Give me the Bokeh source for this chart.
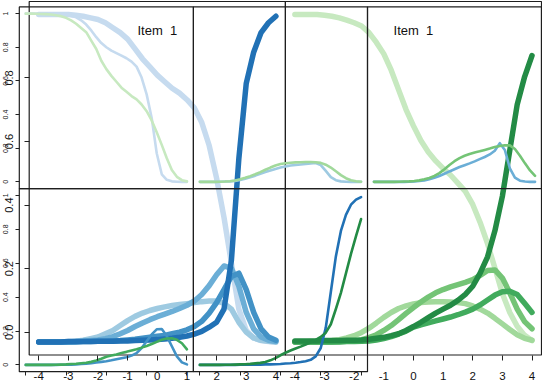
from bokeh.plotting import figure
from bokeh.models import Range1d, LinearAxis, FixedTicker
from bokeh.core.properties import value
from bokeh.embed import file_html
from bokeh.resources import INLINE

# ---------------- data ----------------
theta = [-4.0, -3.75, -3.5, -3.25, -3.0, -2.75, -2.5, -2.25, -2.0, -1.75, -1.5,
         -1.25, -1.0, -0.75, -0.5, -0.25, 0.0, 0.25, 0.5, 0.75, 1.0, 1.25, 1.5,
         1.75, 2.0, 2.25, 2.5, 2.75, 3.0, 3.25, 3.5, 3.75, 4.0]

# large panels: category curves of the blue item
blue_c1 = [1.0, 1.0, 1.0, 1.0, 1.0, 0.998, 0.995, 0.99, 0.985, 0.975, 0.96, 0.945, 0.925, 0.895, 0.865, 0.84, 0.815,
           0.795, 0.775, 0.76, 0.74, 0.715, 0.67, 0.6, 0.5, 0.38, 0.24, 0.1, 0.035, 0.012, 0.004, 0.001, 0.0]
blue_c2 = [0, 0, 0, 0, 0.001, 0.002, 0.005, 0.01, 0.015, 0.025, 0.035, 0.05, 0.065, 0.078, 0.088, 0.096, 0.102,
           0.107, 0.111, 0.114, 0.117, 0.12, 0.123, 0.125, 0.125, 0.118, 0.1, 0.06, 0.03, 0.012, 0.005, 0.002, 0.0]
blue_c3 = [0, 0, 0, 0, 0, 0.001, 0.002, 0.004, 0.006, 0.01, 0.016, 0.025, 0.035, 0.047, 0.058, 0.068, 0.077,
           0.085, 0.093, 0.102, 0.112, 0.125, 0.145, 0.172, 0.205, 0.232, 0.225, 0.17, 0.09, 0.04, 0.015, 0.005, 0.001]
blue_c4 = [0, 0, 0, 0, 0, 0, 0.001, 0.001, 0.002, 0.002, 0.003, 0.004, 0.006, 0.008, 0.011, 0.014, 0.017,
           0.02, 0.025, 0.03, 0.037, 0.047, 0.063, 0.088, 0.12, 0.16, 0.2, 0.21, 0.16, 0.09, 0.04, 0.015, 0.005]
blue_c5 = [0, 0, 0, 0, 0.001, 0.001, 0.001, 0.001, 0.002, 0.002, 0.002, 0.003, 0.003, 0.004, 0.005, 0.006, 0.007,
           0.009, 0.011, 0.014, 0.018, 0.024, 0.032, 0.045, 0.06, 0.1, 0.25, 0.56, 0.79, 0.885, 0.945, 0.975, 0.995]

# large panels: category curves of the green item
green_c1 = [1.0, 1.0, 1.0, 1.0, 0.998, 0.995, 0.99, 0.983, 0.975, 0.965, 0.945, 0.915, 0.88, 0.83, 0.77, 0.71, 0.66,
            0.615, 0.58, 0.553, 0.53, 0.51, 0.485, 0.46, 0.42, 0.365, 0.3, 0.225, 0.148, 0.09, 0.048, 0.02, 0.004]
green_c2 = [0, 0, 0.001, 0.001, 0.002, 0.004, 0.007, 0.012, 0.019, 0.029, 0.042, 0.058, 0.075, 0.09, 0.102, 0.11, 0.116,
            0.12, 0.122, 0.123, 0.123, 0.122, 0.12, 0.117, 0.11, 0.1, 0.088, 0.072, 0.055, 0.038, 0.022, 0.011, 0.005]
green_c3 = [0, 0, 0, 0, 0, 0, 0.001, 0.002, 0.003, 0.007, 0.013, 0.022, 0.035, 0.05, 0.068, 0.087, 0.105,
            0.122, 0.137, 0.15, 0.16, 0.168, 0.175, 0.182, 0.19, 0.203, 0.218, 0.22, 0.195, 0.15, 0.1, 0.062, 0.04]
green_c4 = [0, 0, 0, 0, 0, 0, 0, 0.001, 0.001, 0.002, 0.003, 0.006, 0.01, 0.016, 0.024, 0.033, 0.045,
            0.052, 0.058, 0.064, 0.07, 0.076, 0.083, 0.091, 0.1, 0.113, 0.128, 0.143, 0.153, 0.155, 0.145, 0.118, 0.09]
green_c5 = [0.003, 0.003, 0.003, 0.003, 0.004, 0.004, 0.004, 0.005, 0.005, 0.006, 0.008, 0.011, 0.014, 0.019, 0.025,
            0.035, 0.047, 0.06, 0.074, 0.088, 0.1, 0.112, 0.127, 0.145, 0.17, 0.21, 0.26, 0.34, 0.445, 0.585, 0.725,
            0.81, 0.875]

# small panels (one category per panel, blue item and green item)
cat1_blue = [1.0, 1.0, 1.0, 1.0, 1.0, 0.999, 0.998, 0.996, 0.993, 0.988, 0.978, 0.96, 0.935, 0.9, 0.86, 0.825, 0.8,
             0.78, 0.765, 0.75, 0.735, 0.715, 0.685, 0.62, 0.52, 0.38, 0.17, 0.045, 0.012, 0.003, 0.001, 0.0, 0.0]
cat1_green = [1.0, 1.0, 0.999, 0.998, 0.997, 0.995, 0.99, 0.985, 0.975, 0.96, 0.94, 0.915, 0.89, 0.84, 0.79, 0.72, 0.67,
              0.63, 0.595, 0.56, 0.535, 0.51, 0.49, 0.46, 0.42, 0.365, 0.295, 0.22, 0.14, 0.07, 0.03, 0.01, 0.003]
cat2_blue = [0, 0, 0, 0, 0.001, 0.002, 0.003, 0.006, 0.011, 0.018, 0.027, 0.037, 0.048, 0.059, 0.068, 0.077, 0.085,
             0.092, 0.097, 0.1, 0.103, 0.106, 0.11, 0.112, 0.1, 0.065, 0.028, 0.01, 0.003, 0.001, 0, 0, 0]
cat2_green = [0, 0, 0, 0, 0.001, 0.002, 0.004, 0.008, 0.015, 0.024, 0.034, 0.045, 0.058, 0.072, 0.085, 0.097, 0.106,
              0.111, 0.114, 0.116, 0.117, 0.118, 0.118, 0.117, 0.113, 0.102, 0.085, 0.063, 0.04, 0.022, 0.01, 0.004, 0.001]
cat3_blue = [0, 0, 0, 0, 0, 0, 0, 0.001, 0.002, 0.005, 0.009, 0.015, 0.024, 0.035, 0.048, 0.062, 0.075,
             0.088, 0.099, 0.11, 0.122, 0.135, 0.148, 0.163, 0.185, 0.23, 0.19, 0.08, 0.025, 0.007, 0.002, 0, 0]
cat3_green = [0, 0, 0, 0, 0, 0.001, 0.002, 0.003, 0.005, 0.009, 0.015, 0.023, 0.035, 0.052, 0.075, 0.1, 0.123,
              0.141, 0.155, 0.166, 0.175, 0.182, 0.19, 0.198, 0.207, 0.213, 0.218, 0.217, 0.195, 0.155, 0.11, 0.068, 0.036]
cat4_blue = [0, 0, 0, 0, 0, 0, 0, 0.001, 0.001, 0.002, 0.003, 0.005, 0.007, 0.01, 0.014, 0.018, 0.022,
             0.027, 0.033, 0.039, 0.045, 0.055, 0.07, 0.1, 0.14, 0.18, 0.21, 0.212, 0.17, 0.11, 0.05, 0.015, 0.003]
cat4_green = [0, 0, 0, 0, 0, 0, 0.001, 0.002, 0.003, 0.005, 0.007, 0.01, 0.013, 0.018, 0.026, 0.036, 0.048,
              0.055, 0.062, 0.07, 0.077, 0.085, 0.093, 0.102, 0.112, 0.123, 0.136, 0.148, 0.156, 0.157, 0.148, 0.128, 0.092]
cat5_blue = [0, 0, 0, 0, 0, 0, 0, 0, 0.001, 0.001, 0.001, 0.002, 0.002, 0.003, 0.003, 0.004, 0.005,
             0.008, 0.01, 0.013, 0.017, 0.022, 0.03, 0.05, 0.1, 0.22, 0.43, 0.64, 0.79, 0.885, 0.945, 0.975, 0.99]
cat5_green = [0, 0, 0, 0, 0, 0.001, 0.001, 0.002, 0.003, 0.004, 0.006, 0.009, 0.012, 0.017, 0.027, 0.04, 0.057,
              0.072, 0.085, 0.097, 0.108, 0.12, 0.133, 0.148, 0.165, 0.19, 0.24, 0.33, 0.425, 0.54, 0.655, 0.76, 0.86]

panel_titles = ["Item\u00a0 1", "Item\u00a0 1"]
theta_ticks = [-4, -3, -2, -1, 0, 1, 2, 3, 4]
theta_labels = ["-4", "-3", "-2", "-1", "0", "1", "2", "3", "4"]
big_prob_ticks = [0.0, 0.2, 0.4, 0.6, 0.8]
big_prob_labels = ["0.0", "0.2", "0.4", "0.6", "0.8"]
small_prob_ticks = [0.0, 0.2, 0.4, 0.6, 0.8, 1.0]
small_prob_labels = ["0", "0.2", "0.4", "0.6", "0.8", "1"]
small_theta_ticks = [-4, -2, 0, 2, 4]

# ---------------- styling / layout ----------------
BLUES = ["#c6dbef", "#9ecae1", "#6baed6", "#4292c6", "#2171b5"]
GREENS = ["#c7e9c0", "#a1d99b", "#74c476", "#41ab5d", "#238b45"]
FONT = "Liberation Sans"
FRAME = "#1e1e1e"
W, H = 542, 384

# panel boxes in canvas pixels (left, right) / (top, bottom)
P_X = [(28.7, 284.9), (284.9, 541.0)]
P_Y = (1.0, 354.5)
P_AXIS_Y = (13.8, 331.8)
Q_X = [(18.8, 192.9), (192.9, 367.0), (367.0, 541.0)]
Q_Y = [(6.4, 188.1), (188.1, 371.2)]
XLO, XHI = -4.32, 4.32
YLO, YHI = -0.04, 1.04


def x_range_for(left, right, lo=XLO, hi=XHI):
    k = (hi - lo) / (right - left)
    return Range1d(start=lo - left * k, end=hi + (W - right) * k)


def y_range_for(top, bottom, lo=YLO, hi=YHI):
    k = (hi - lo) / (bottom - top)
    return Range1d(start=lo - (H - bottom) * k, end=hi + top * k)


p = figure(width=W, height=H, output_backend="svg", toolbar_location=None,
           x_axis_type=None, y_axis_type=None,
           x_range=Range1d(0, W), y_range=Range1d(0, H), min_border=0)
p.outline_line_color = None
p.background_fill_color = "white"
p.border_fill_color = "white"

p.extra_x_ranges = {
    "px0": x_range_for(*P_X[0]), "px1": x_range_for(*P_X[1]),
    "qx0": x_range_for(*Q_X[0]), "qx1": x_range_for(*Q_X[1]), "qx2": x_range_for(*Q_X[2]),
}
p.extra_y_ranges = {
    "py": y_range_for(*P_Y),
    "pyax": y_range_for(P_AXIS_Y[0], P_AXIS_Y[1], 0.0, 1.0),
    "qy0": y_range_for(*Q_Y[0]), "qy1": y_range_for(*Q_Y[1]),
}


def frame(xn, yn):
    p.quad(left=[XLO], right=[XHI], bottom=[YLO], top=[YHI], fill_color=None,
           line_color=FRAME, line_width=1.2, x_range_name=xn, y_range_name=yn)


def curve(vals, col, xn, yn, lw):
    p.line(theta, vals, line_color=col, line_width=lw, line_cap="round", line_join="round",
           x_range_name=xn, y_range_name=yn)


# ---- large two-panel layer ----
frame("px0", "py")
frame("px1", "py")
for vals, col in zip([blue_c1, blue_c2, blue_c3, blue_c4, blue_c5], BLUES):
    curve(vals, col, "px0", "py", 5.5)
for vals, col in zip([green_c1, green_c2, green_c3, green_c4, green_c5], GREENS):
    curve(vals, col, "px1", "py", 5.5)
for i, xn in enumerate(["px0", "px1"]):
    p.text(x=[0], y=[0.95], text=[panel_titles[i]], x_range_name=xn, y_range_name="py",
           text_font=value(FONT), text_font_size="13px", text_color="#111",
           text_align="center", text_baseline="middle")

# ---- small five-panel layer ----
small = [
    ("qx0", "qy0", cat1_blue, cat1_green, 0),
    ("qx1", "qy0", cat2_blue, cat2_green, 1),
    ("qx2", "qy0", cat3_blue, cat3_green, 2),
    ("qx0", "qy1", cat4_blue, cat4_green, 3),
    ("qx1", "qy1", cat5_blue, cat5_green, 4),
]
for xn, yn, bv, gv, k in small:
    frame(xn, yn)
    curve(bv, BLUES[k], xn, yn, 2.6)
    curve(gv, GREENS[k], xn, yn, 2.6)


# ---- axes ----
def add_axis(side, xn, yn, loc, ticks, labels, size, standoff, tick_len, orient="horizontal"):
    ax = LinearAxis(x_range_name=xn, y_range_name=yn, fixed_location=loc,
                    ticker=FixedTicker(ticks=ticks),
                    major_label_overrides=dict(zip(ticks, labels)),
                    major_label_orientation=orient,
                    major_label_text_font=FONT, major_label_text_font_size=size,
                    major_label_text_color="#111", major_label_standoff=standoff,
                    axis_line_color=None, major_tick_in=0, major_tick_out=tick_len,
                    major_tick_line_color="#222", minor_tick_line_color=None)
    p.add_layout(ax, side)


add_axis("left", "px0", "pyax", XLO, big_prob_ticks, big_prob_labels, "11px", 11, 5, "vertical")
add_axis("left", "qx0", "qy0", XLO, small_prob_ticks, small_prob_labels, "7px", 7, 4, "vertical")
add_axis("left", "qx0", "qy1", XLO, small_prob_ticks, small_prob_labels, "7px", 7, 4, "vertical")
add_axis("below", "px0", "py", YLO, theta_ticks, theta_labels, "11.5px", 12, 5)
add_axis("below", "px1", "py", YLO, theta_ticks, theta_labels, "11.5px", 12, 5)
add_axis("below", "qx0", "qy1", YLO, small_theta_ticks, [""] * 5, "1px", 0, 4)
add_axis("below", "qx1", "qy1", YLO, small_theta_ticks, [""] * 5, "1px", 0, 4)

open("out.html", "w").write(file_html(p, INLINE))
